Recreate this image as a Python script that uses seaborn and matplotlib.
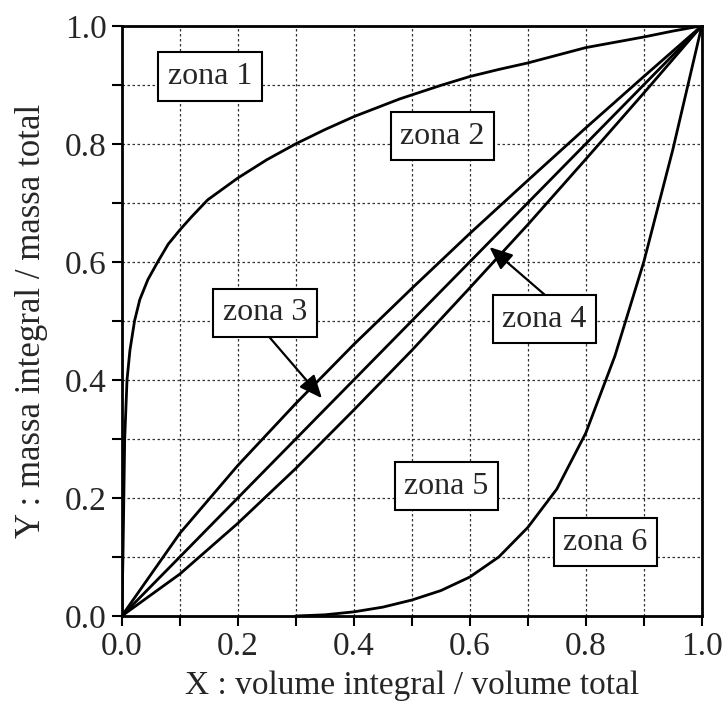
import matplotlib
matplotlib.use("Agg")
import matplotlib.pyplot as plt
import seaborn as sns
import pandas as pd
from matplotlib.ticker import MultipleLocator

# ---- data ----
upper_x = [0, 0.002, 0.005, 0.009, 0.014, 0.022, 0.031, 0.045, 0.062, 0.08, 0.1, 0.12,
           0.148, 0.2, 0.25, 0.3, 0.35, 0.4, 0.479, 0.55, 0.6, 0.65, 0.7, 0.75,
           0.8, 0.85, 0.9, 0.95, 1.0]
upper_y = [0, 0.1, 0.3, 0.4, 0.45, 0.5, 0.536, 0.57, 0.6, 0.63, 0.654, 0.676,
           0.705, 0.742, 0.773, 0.8, 0.824, 0.846, 0.876, 0.899, 0.914, 0.926, 0.937, 0.95,
           0.963, 0.972, 0.981, 0.991, 1.0]

diag_x = [0, 0.1, 0.2, 0.3, 0.4, 0.5, 0.6, 0.7, 0.8, 0.9, 1.0]
diag_hi_y = [0, 0.14, 0.255, 0.36, 0.46, 0.555, 0.648, 0.738, 0.827, 0.914, 1.0]
diag_mid_y = [0, 0.1, 0.2, 0.3, 0.4, 0.5, 0.6, 0.7, 0.8, 0.9, 1.0]
diag_lo_y = [0, 0.071, 0.157, 0.25, 0.349, 0.45, 0.556, 0.663, 0.774, 0.886, 1.0]

lower_x = [0.3, 0.35, 0.4, 0.45, 0.5, 0.55, 0.6, 0.65, 0.7, 0.75, 0.8, 0.85, 0.9, 0.95, 1.0]
lower_y = [0, 0.002, 0.007, 0.015, 0.027, 0.043, 0.066, 0.1, 0.15, 0.215, 0.31, 0.44, 0.6, 0.79, 1.0]

zone_labels = ["zona 1", "zona 2", "zona 3", "zona 4", "zona 5", "zona 6"]
zone_x = [0.152, 0.553, 0.247, 0.729, 0.56, 0.834]
zone_y = [0.914, 0.813, 0.514, 0.503, 0.22, 0.125]

tick_vals = [0.0, 0.2, 0.4, 0.6, 0.8, 1.0]
tick_labels = ["0.0", "0.2", "0.4", "0.6", "0.8", "1.0"]

xlabel = "X : volume integral / volume total"
ylabel = "Y : massa integral / massa total"

# ---- plotting ----
sns.set_style("white")
plt.rcParams["font.family"] = ["Liberation Serif", "DejaVu Serif"]

fig = plt.figure(figsize=(7.25, 7.06), dpi=100)
ax = fig.add_axes([0.168, 0.1275, 0.8, 0.836])

curves = [
    (upper_x, upper_y),
    (diag_x, diag_hi_y),
    (diag_x, diag_mid_y),
    (diag_x, diag_lo_y),
    (lower_x, lower_y),
]
for cx, cy in curves:
    df = pd.DataFrame({"x": cx, "y": cy})
    sns.lineplot(data=df, x="x", y="y", sort=False, estimator=None,
                 color="black", lw=2.0, ax=ax, zorder=3)

ax.set_xlim(0, 1)
ax.set_ylim(0, 1)
ax.set_xticks(tick_vals)
ax.set_xticklabels(tick_labels)
ax.set_yticks(tick_vals)
ax.set_yticklabels(tick_labels)
ax.xaxis.set_minor_locator(MultipleLocator(0.1))
ax.yaxis.set_minor_locator(MultipleLocator(0.1))
ax.tick_params(which="both", direction="out", length=7, width=1.5,
               color="black", labelsize=24, bottom=True, left=True)
ax.tick_params(axis="x", pad=4)
ax.tick_params(axis="y", pad=4)
ax.grid(True, which="both", color="#333333", linestyle=(0, (2, 2)), lw=0.9)
ax.set_axisbelow(True)
for s in ax.spines.values():
    s.set_visible(True)
    s.set_color("black")
    s.set_linewidth(2.0)

ax.set_xlabel(xlabel, fontsize=24, labelpad=6)
ax.set_ylabel(ylabel, fontsize=25, labelpad=12)

box = dict(boxstyle="square,pad=0.3", fc="white", ec="black", lw=1.5)
for lab, lx, ly in zip(zone_labels, zone_x, zone_y):
    ax.text(lx, ly, lab, fontsize=23, ha="center", va="center",
            bbox=box, zorder=5)

arrow = dict(arrowstyle="-|>,head_length=1.4,head_width=0.6", lw=1.6,
             color="black", shrinkA=0, shrinkB=0)
ax.annotate("", xy=(0.345, 0.369), xytext=(0.247, 0.481),
            arrowprops=arrow, zorder=4)
ax.annotate("", xy=(0.634, 0.625), xytext=(0.733, 0.541),
            arrowprops=arrow, zorder=4)

fig.savefig("out.png", dpi=100)
